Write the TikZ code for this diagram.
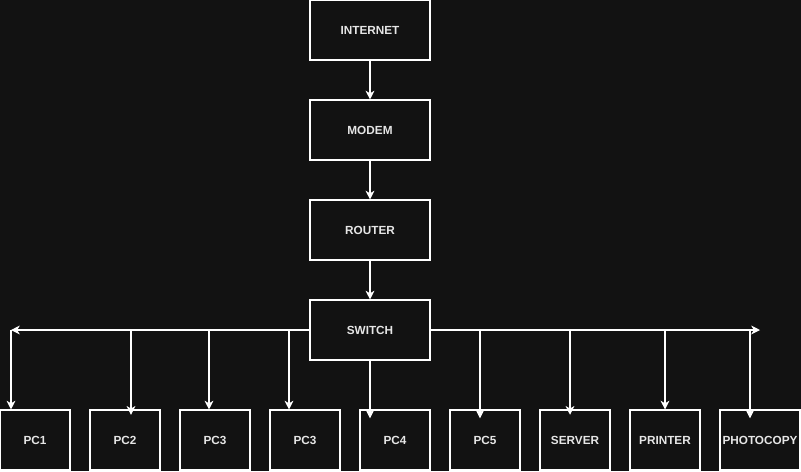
\documentclass[tikz,border=0pt]{standalone}
\usepackage{fontspec}
\setmainfont{Liberation Sans}
\usetikzlibrary{arrows.meta}
\definecolor{bg}{HTML}{121212}
\definecolor{txt}{HTML}{E6E6E6}
\tikzset{box/.style={draw=white,fill=bg,line width=0.6pt,minimum width=2.4cm,minimum height=1.2cm,
  inner sep=0pt,text=txt,font=\bfseries\fontsize{6.7}{8}\selectfont},
  dev/.style={box,minimum width=1.4cm}}
\begin{document}
\begin{tikzpicture}[x=0.02cm,y=-0.02cm,>={Stealth[length=5pt,width=5pt,inset=1.5pt]},white,line width=0.6pt]
\fill[bg] (0,0) rectangle (801,471);
\useasboundingbox (0,0) rectangle (801,471);
% main chain
\node[box] (internet) at (370,30){INTERNET};
\node[box] (modem) at (370,130){MODEM};
\node[box] (router) at (370,230){ROUTER};
\node[box] (switch) at (370,330){SWITCH};
% devices
\node[dev] (pc1) at (35,440){PC1};
\node[dev] (pc2) at (125,440){PC2};
\node[dev] (pc3) at (215,440){PC3};
\node[dev] (pc3b) at (305,440){PC3};
\node[dev] (pc4) at (395,440){PC4};
\node[dev] (pc5) at (485,440){PC5};
\node[dev] (server) at (575,440){SERVER};
\node[dev] (printer) at (665,440){PRINTER};
\node[dev,minimum width=1.6cm] (photo) at (760,440){PHOTOCOPY};
% bus ends and taps
\coordinate (bl) at (11,330);
\coordinate (br) at (760,330);
\coordinate (t2) at (131,330);
\coordinate (t3) at (209,330);
\coordinate (t3b) at (289,330);
\coordinate (t5) at (480,330);
\coordinate (ts) at (570,330);
\coordinate (tp) at (665,330);
\coordinate (tf) at (750,330);

\draw[->] (internet)--(modem);
\draw[->] (modem)--(router);
\draw[->] (router)--(switch);
\draw[->] (switch.west)--(bl);
\draw[->] (switch.east)--(br);
\draw[->] (bl)--(bl|-pc1.north);
\draw[->,shorten >=-3pt] (t2)--(t2|-pc2.north);
\draw[->] (t3)--(t3|-pc3.north);
\draw[->] (t3b)--(t3b|-pc3b.north);
\draw[->,shorten >=-5pt] (switch.south)--(switch.south|-pc4.north);
\draw[->,shorten >=-5pt] (t5)--(t5|-pc5.north);
\draw[->,shorten >=-3pt] (ts)--(ts|-server.north);
\draw[->] (tp)--(tp|-printer.north);
\draw[->,shorten >=-5pt] (tf)--(tf|-photo.north);
\end{tikzpicture}
\end{document}
